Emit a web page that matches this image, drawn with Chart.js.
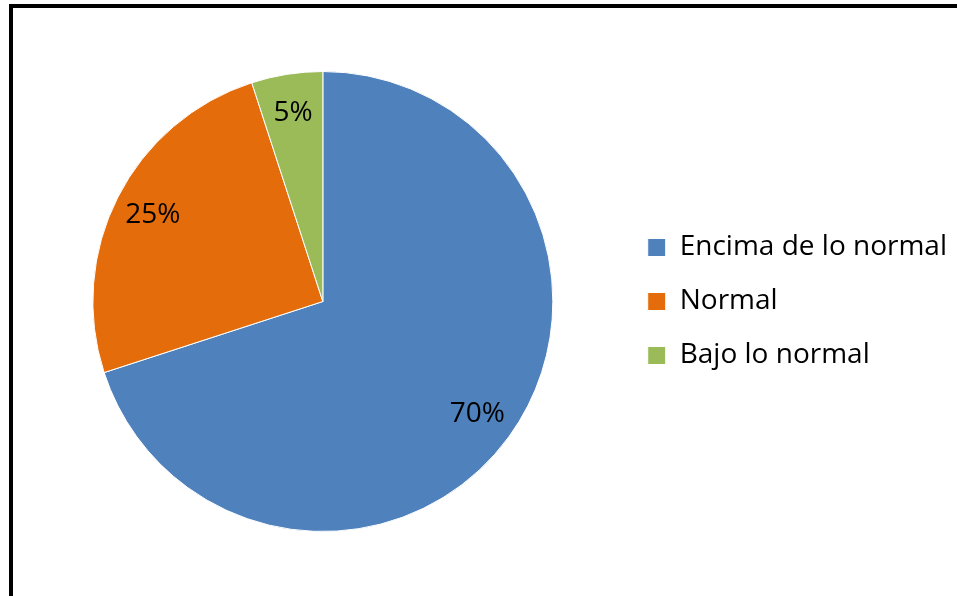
<!DOCTYPE html>
<html>
<head>
<meta charset="utf-8">
<script src="https://cdn.jsdelivr.net/npm/chart.js@4"></script>
<style>
  html, body { margin: 0; padding: 0; background: #fff; }
  #wrap { position: relative; width: 957px; height: 596px; overflow: hidden; background: #fff; }
  #c { position: absolute; left: 0; top: 0; }
  #frame { position: absolute; left: 9px; top: 4px; width: 1100px; height: 589px;
           border-top: 4px solid #000; border-left: 4px solid #000; border-bottom: 2px solid #444;
           pointer-events: none; }
</style>
</head>
<body>
<div id="wrap">
  <canvas id="c" width="957" height="596"></canvas>
  <div id="frame"></div>
</div>
<script>
const categories = ["Encima de lo normal", "Normal", "Bajo lo normal"];
const values = [70, 25, 5];
const percentLabels = ["70%", "25%", "5%"];
const colors = ["#4F81BD", "#E46C0A", "#9BBB59"];

const FONT = "'Open Sans', 'Liberation Sans', sans-serif";

const labelPlugin = {
  id: 'sliceLabels',
  afterDatasetsDraw(chart) {
    const ctx = chart.ctx;
    const meta = chart.getDatasetMeta(0);
    ctx.save();
    ctx.font = "28px " + FONT;
    ctx.fillStyle = "#000";
    ctx.textAlign = "center";
    ctx.textBaseline = "middle";
    meta.data.forEach((arc, i) => {
      const p = arc.getProps(['x', 'y', 'startAngle', 'endAngle', 'outerRadius'], true);
      const mid = (p.startAngle + p.endAngle) / 2;
      const r = p.outerRadius * 0.83;
      ctx.fillText(percentLabels[i], p.x + Math.cos(mid) * r, p.y + Math.sin(mid) * r);
    });
    ctx.restore();
  }
};

new Chart(document.getElementById('c'), {
  type: 'pie',
  data: {
    labels: categories,
    datasets: [{
      data: values,
      backgroundColor: colors,
      borderColor: '#ffffff',
      borderWidth: 1
    }]
  },
  options: {
    responsive: false,
    animation: false,
    layout: { padding: { left: 24, right: 0, top: 71, bottom: 64 } },
    plugins: {
      tooltip: { enabled: false },
      legend: {
        position: 'right',
        align: 'center',
        labels: {
          boxWidth: 18,
          boxHeight: 18,
          padding: 26,
          color: '#000',
          font: { family: FONT, size: 28 }
        }
      }
    }
  },
  plugins: [labelPlugin]
});
</script>
</body>
</html>
